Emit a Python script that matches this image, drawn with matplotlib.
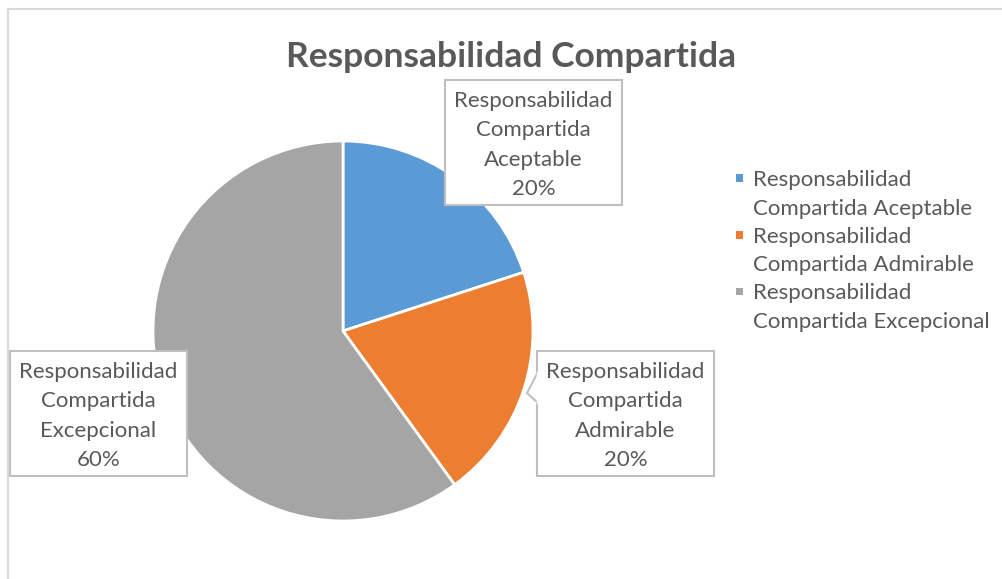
import matplotlib
matplotlib.use('Agg')
import matplotlib.pyplot as plt
from matplotlib.patches import Rectangle, Polygon
from matplotlib.lines import Line2D

# data
categorias = ['Responsabilidad Compartida Aceptable',
              'Responsabilidad Compartida Admirable',
              'Responsabilidad Compartida Excepcional']
valores = [20, 20, 60]
colores = ['#5B9BD5', '#ED7D31', '#A5A5A5']
titulo = 'Responsabilidad Compartida'

W, H = 1003, 579
plt.rcParams['font.family'] = ['Lato', 'DejaVu Sans']
gris = '#595959'

fig = plt.figure(figsize=(W / 100, H / 100), dpi=100)

def px(x, y):
    # pixel coords (from top-left) -> figure fraction
    return x / W, 1 - y / H

# chart frame (only top/left visible, rest cropped)
fig.add_artist(Line2D([px(8, 0)[0], px(8, 0)[0]], [px(0, 9)[1], 0], color='#D9D9D9', lw=1.5))
fig.add_artist(Line2D([px(8, 0)[0], 1], [px(0, 9)[1], px(0, 9)[1]], color='#D9D9D9', lw=1.5))

# pie
cx, cy, r = 343, 331, 190
x0, y0 = px(cx - r, cy + r)
ax = fig.add_axes([x0, y0, 2 * r / W, 2 * r / H])
wedges, _ = ax.pie(valores, colors=colores, startangle=90, counterclock=False,
                   radius=1, wedgeprops=dict(edgecolor='white', linewidth=2))
ax.set_xlim(-1, 1)
ax.set_ylim(-1, 1)
ax.set_aspect('auto')
ax.axis('off')

fig.text(*px(511, 57), titulo, ha='center', va='center', fontsize=25.5,
         fontweight='bold', color=gris)

# data label boxes (x_left, y_top) in pixels
cajas = [(445, 80), (537, 351), (10, 351)]
bw, bh = 177, 125
for (bx, by), cat, v in zip(cajas, categorias, valores):
    fx, fy = px(bx, by + bh)
    fig.add_artist(Rectangle((fx, fy), bw / W, bh / H, transform=fig.transFigure,
                             facecolor='white', edgecolor='#BFBFBF', lw=1.5))
    txt = '\n'.join(cat.split(' ')) + f'\n{v}%'
    fig.text(*px(bx + bw / 2, by + bh / 2 + 2.5), txt, ha='center', va='center',
             fontsize=16, color=gris, linespacing=1.58)

# callout pointer on the Admirable box
tri = [px(538, 372), px(527, 393), px(538, 403)]
fig.add_artist(Polygon(tri, closed=False, transform=fig.transFigure,
                       facecolor='white', edgecolor='#BFBFBF', lw=1.5))
fig.add_artist(Line2D([px(538, 0)[0]] * 2, [px(0, 373)[1], px(0, 402)[1]],
                      color='white', lw=2.5))

# legend (square marker beside first line of each wrapped label)
for i, (cat, col) in enumerate(zip(categorias, colores)):
    ly = 180 + i * 56.5
    mx, my = px(736, ly + 2)
    fig.add_artist(Rectangle((mx, my), 7.5 / W, 7.5 / H, transform=fig.transFigure,
                             facecolor=col, edgecolor='none'))
    etiqueta = cat.replace('Responsabilidad ', 'Responsabilidad\n')
    fig.text(*px(753, ly - 10), etiqueta, ha='left', va='top', fontsize=16,
             color=gris, linespacing=1.55)

fig.savefig('out.png', dpi=100)
